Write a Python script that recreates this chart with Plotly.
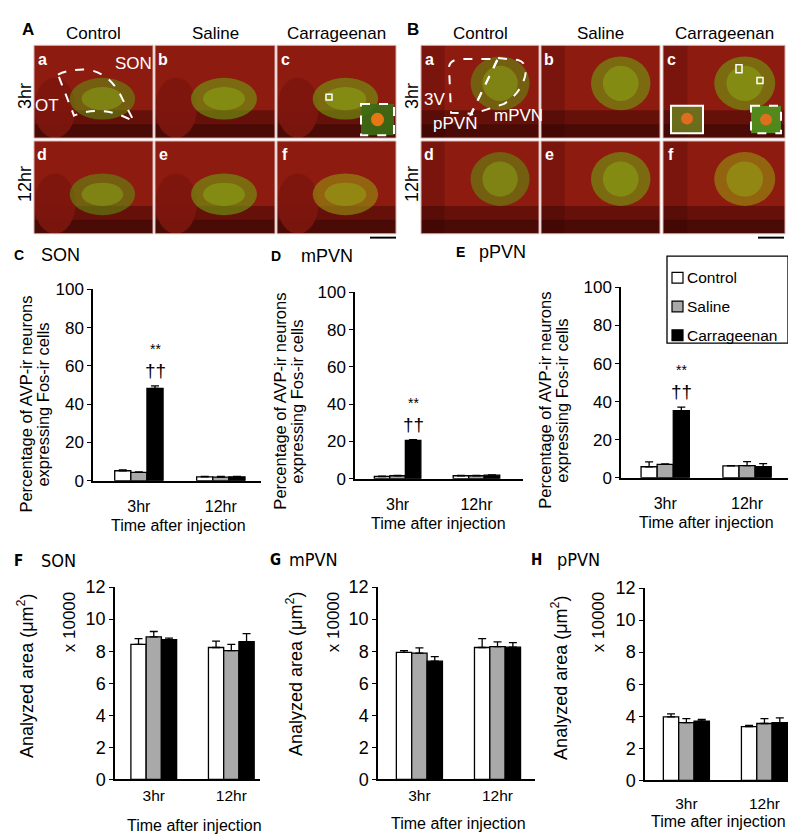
import plotly.graph_objects as go

W, H = 796, 839

times = ["3hr", "12hr"]
groups = ["Control", "Saline", "Carrageenan"]

# C-E: % of AVP-ir neurons expressing Fos-ir cells, rows = Control, Saline, Carrageenan
son_pct = [[5.2, 2.0], [4.3, 1.9], [48.3, 2.0]]
son_pct_err = [[0.4, 0.3], [0.3, 0.3], [1.3, 0.3]]
mpvn_pct = [[1.2, 1.6], [1.6, 1.6], [20.6, 1.9]]
mpvn_pct_err = [[0.2, 0.2], [0.2, 0.2], [0.4, 0.2]]
ppvn_pct = [[5.8, 6.3], [7.0, 6.4], [35.3, 5.9]]
ppvn_pct_err = [[2.6, 0.1], [0.3, 2.1], [1.8, 1.5]]

# F-H: analyzed area (x 10000 um2)
son_area = [[8.43, 8.23], [8.9, 8.03], [8.72, 8.6]]
son_area_err = [[0.35, 0.4], [0.33, 0.4], [0.1, 0.5]]
mpvn_area = [[7.93, 8.23], [7.88, 8.28], [7.38, 8.25]]
mpvn_area_err = [[0.1, 0.55], [0.33, 0.3], [0.28, 0.28]]
ppvn_area = [[3.96, 3.35], [3.6, 3.55], [3.7, 3.6]]
ppvn_area_err = [[0.19, 0.08], [0.25, 0.3], [0.1, 0.3]]

colors = ["white", "#a9a9a9", "black"]
FONT = "Liberation Sans, Arial, sans-serif"
NARROW = "Liberation Sans Narrow, Arial Narrow, DejaVu Sans Condensed, sans-serif"

# layout of the six bar charts (pixel boxes)
panels = [
    dict(letter="C", title="SON", vals=son_pct, err=son_pct_err, box=(85, 253, 278, 474),
         xr=[-0.56, 1.49], ymax=100, dt=20, tl=10, sig=True),
    dict(letter="D", title="mPVN", vals=mpvn_pct, err=mpvn_pct_err, box=(347, 515, 281, 472),
         xr=[-0.54, 1.59], ymax=100, dt=20, tl=10, sig=True),
    dict(letter="E", title="pPVN", vals=ppvn_pct, err=ppvn_pct_err, box=(613, 780, 276, 471),
         xr=[-0.54, 1.5], ymax=100, dt=20, tl=10, sig=True),
    dict(letter="F", title="SON", vals=son_area, err=son_area_err, box=(107, 252, 583, 780),
         xr=[-0.5, 1.37], ymax=12, dt=2, tl=1, sig=False),
    dict(letter="G", title="mPVN", vals=mpvn_area, err=mpvn_area_err, box=(370, 527, 583, 780),
         xr=[-0.53, 1.48], ymax=12, dt=2, tl=1, sig=False),
    dict(letter="H", title="pPVN", vals=ppvn_area, err=ppvn_area_err, box=(637, 783, 584, 781),
         xr=[-0.53, 1.34], ymax=12, dt=2, tl=8, sig=False),
]

fig = go.Figure()
layout = {}
shapes = []
ann = []


def txt(x, y, s, size=16, color="black", family=FONT, angle=0, **kw):
    d = dict(x=x, y=y, text=s, xref="x7", yref="y7", showarrow=False, textangle=angle,
             font=dict(size=size, color=color, family=family))
    d.update(kw)
    ann.append(d)


def rect(x0, y0, x1, y1, fill, line=None, dash="solid", lw=1.5, kind="rect"):
    shapes.append(dict(type=kind, xref="x7", yref="y7", x0=x0, y0=y0, x1=x1, y1=y1,
                       fillcolor=fill, line=dict(color=line or "rgba(0,0,0,0)", width=lw, dash=dash),
                       layer="above"))


def path(p, color="white", dash="dash", lw=2):
    shapes.append(dict(type="path", xref="x7", yref="y7", path=p,
                       line=dict(color=color, width=lw, dash=dash), layer="above"))


for i, p in enumerate(panels, start=1):
    xa, ya = f"x{i}", f"y{i}"
    for j, g in enumerate(groups):
        fig.add_trace(go.Bar(
            x=times, y=p["vals"][j], name=g, showlegend=False,
            marker=dict(color=colors[j], line=dict(color="black", width=1.3)),
            error_y=dict(type="data", symmetric=False, array=p["err"][j], arrayminus=[0, 0],
                         color="black", thickness=1.3, width=4),
            xaxis=xa, yaxis=ya))
    x0, x1, yt, yb = p["box"]
    sfx = "" if i == 1 else str(i)
    big = p["ymax"] == 100
    layout["xaxis" + sfx] = dict(
        domain=[x0 / W, x1 / W], anchor=ya, type="category", range=p["xr"],
        showline=True, linecolor="black", linewidth=1.5, ticks="outside", ticklen=p["tl"],
        tickcolor="rgba(0,0,0,0)", tickfont=dict(size=16 if big else 15.5, color="black"),
        showgrid=False, zeroline=False, fixedrange=True)
    layout["yaxis" + sfx] = dict(
        domain=[1 - yb / H, 1 - yt / H], anchor=xa, range=[0, p["ymax"]], dtick=p["dt"], tick0=0,
        showline=True, linecolor="black", linewidth=1.5, ticks="outside", ticklen=4,
        tickwidth=1.3, tickcolor="black", tickfont=dict(size=17 if big else 18, color="black"),
        showgrid=False, zeroline=False, fixedrange=True)
    if p["sig"]:
        top = p["vals"][2][0] + p["err"][2][0]
        ann.append(dict(x=0.2, y=top, xref=xa, yref=ya, text="††", showarrow=False,
                        yanchor="bottom", yshift=3, font=dict(size=19, color="black", family=FONT)))
        ann.append(dict(x=0.2, y=top, xref=xa, yref=ya, text="**", showarrow=False,
                        yanchor="bottom", yshift=27, font=dict(size=14, color="black", family=FONT)))

# overlay axis in pixel coordinates for decorations and labels
fig.add_trace(go.Scatter(x=[], y=[], xaxis="x7", yaxis="y7", showlegend=False))
layout["xaxis7"] = dict(domain=[0, 1], range=[0, W], visible=False, anchor="y7", fixedrange=True)
layout["yaxis7"] = dict(domain=[0, 1], range=[H, 0], visible=False, anchor="x7", fixedrange=True)

# panel titles
for (lx, ly, letter, tx, title, fam, ls) in [
    (11, 243, "C", 52, "SON", FONT, 14), (268, 244, "D", 319, "mPVN", FONT, 14),
    (452, 240, "E", 494, "pPVN", FONT, 14),
    (10, 556, "F", 50, "SON", NARROW, 15), (267, 555, "G", 305, "mPVN", NARROW, 15),
    (528, 555, "H", 570, "pPVN", NARROW, 15)]:
    txt(lx, ly, "<b>" + letter + "</b>", size=ls, family=fam)
    txt(tx, ly, title, size=18, family=fam)

# y-axis titles
for cx, cy in [(18, 396), (272, 393), (537, 392)]:
    txt(cx, cy, "Percentage of AVP-ir neurons", size=16.5, angle=-90)
    txt(cx + 17, cy, "expressing Fos-ir cells", size=16.5, angle=-90)
for cx, cy, cx2 in [(18, 674, 61), (287, 672, 325), (552, 676, 590)]:
    txt(cx, cy, "Analyzed area (μm<sup>2</sup>)", size=18, angle=-90)
    txt(cx2, 619, "x 10000", size=17, angle=-90)

# x-axis titles
for cx, cy in [(170, 520), (430, 518), (698, 517), (186, 827), (450, 825), (710, 823)]:
    txt(cx, cy, "Time after injection", size=16)

# legend
rect(659, 244, 780, 333, "white", line="black", lw=1.3)
for k, g in enumerate(groups):
    yy = 266 + 29.5 * k
    rect(664, yy - 5.5, 675, yy + 5.5, colors[k], line="black", lw=1.2)
    txt(677, yy, g, size=15.5, xanchor="left")

# microscopy image panels (schematic)
colsA = [(26, 145), (147, 267), (269, 388)]
colsB = [(413, 531), (533, 652), (655, 777)]
rows = [(28, 123), (126, 221)]
green = ["rgba(95,150,15,0.55)", "rgba(110,160,15,0.6)", "rgba(150,150,15,0.6)"]
for cols, blob in [(colsA, (0.30, 0.35, 0.85, 0.80)), (colsB, (0.42, 0.12, 0.92, 0.70))]:
    for r, (y0, y1) in enumerate(rows):
        for c, (x0, x1) in enumerate(cols):
            w, h = x1 - x0, y1 - y0
            rect(x0, y0, x1, y1, "#8e1b10")
            rect(x0, y0 + 0.7 * h, x1, y1, "rgba(25,0,0,0.35)")
            rect(x0, y0 + 0.85 * h, x1, y1, "rgba(25,0,0,0.35)")
            if cols is colsA:
                rect(x0, y0 + 0.35 * h, x0 + 0.35 * w, y1, "rgba(125,22,14,0.9)", kind="circle")
            else:
                rect(x0, y0, x0 + 0.2 * w, y1, "rgba(40,0,0,0.2)")
            col = green[2] if (c == 2 and r == 1) else green[min(c, 1)]
            rect(x0 + blob[0] * w, y0 + blob[1] * h, x0 + blob[2] * w, y0 + blob[3] * h,
                 col, kind="circle")
            rect(x0 + (blob[0] + 0.1) * w, y0 + (blob[1] + 0.1) * h,
                 x0 + (blob[2] - 0.1) * w, y0 + (blob[3] - 0.1) * h,
                 "rgba(150,200,30,0.35)", kind="circle")
            rect(x0, y0, x1, y1, "rgba(0,0,0,0)", line="#d9b3b0", lw=1)
            txt(x0 + 8, y0 + 14, "<b>" + "abcdef"[3 * r + c] + "</b>", size=16, color="white")

for (x0, x1), name in zip(colsA, groups):
    txt((x0 + x1) / 2, 16, name, size=17)
for (x0, x1), name in zip(colsB, groups):
    txt((x0 + x1) / 2, 16, name, size=17)
txt(20, 12, "<b>A</b>", size=17)
txt(405, 12, "<b>B</b>", size=17)
for xx in [17, 404]:
    txt(xx, 80, "3hr", size=18, angle=-90)
    txt(xx, 170, "12hr", size=18, angle=-90)

# labels and outlines inside the images
txt(125, 47, "SON", size=17, color="white")
txt(39, 90, "OT", size=17, color="white")
path("M 50 58 Q 62 52 80 53 Q 100 56 112 78 L 126 106 Q 95 88 66 100 Z")
txt(426, 83, "3V", size=17, color="white")
txt(447, 108, "pPVN", size=17, color="white")
txt(510, 100, "mPVN", size=17, color="white")
path("M 441 50 Q 442 43 452 42 L 490 42 L 463 98 L 443 97 Z")
path("M 490 41 L 510 43 Q 520 46 517 60 Q 512 78 496 88 L 463 99 Z")
# insets
rect(353, 88, 386, 120, "rgba(60,110,20,0.9)", line="white", dash="dash", lw=2)
rect(363, 97, 376, 111, "rgba(240,120,20,0.95)", kind="circle")
rect(318, 78, 324, 84, "rgba(0,0,0,0)", line="white", lw=1.5)
rect(663, 90, 695, 118, "rgba(110,120,30,0.9)", line="white", lw=2)
rect(673, 97, 685, 109, "rgba(230,110,30,0.95)", kind="circle")
rect(743, 90, 773, 118, "rgba(80,150,30,0.9)", line="white", dash="dash", lw=2)
rect(752, 98, 764, 110, "rgba(230,110,30,0.95)", kind="circle")
rect(728, 48, 734, 56, "rgba(0,0,0,0)", line="white", lw=1.5)
rect(749, 61, 755, 67, "rgba(0,0,0,0)", line="white", lw=1.5)
# scale bars
rect(362, 224, 388, 226, "black")
rect(750, 224, 776, 226, "black")

fig.update_layout(
    width=W, height=H, margin=dict(l=0, r=0, t=0, b=0),
    paper_bgcolor="white", plot_bgcolor="rgba(0,0,0,0)",
    barmode="group", bargap=0.41, bargroupgap=0,
    font=dict(family=FONT, color="black"),
    showlegend=False, shapes=shapes, annotations=ann, **layout)

fig.write_html("out.html")
